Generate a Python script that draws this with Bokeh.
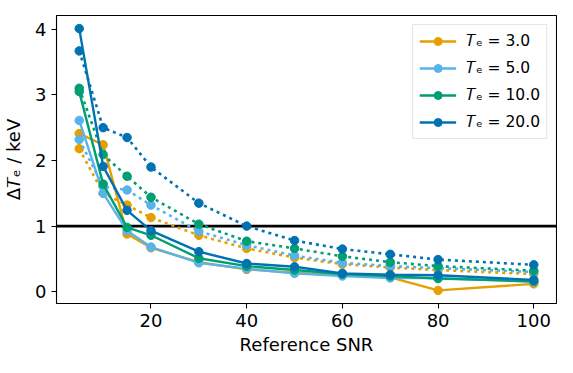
from bokeh.plotting import figure
from bokeh.models import Range1d, FixedTicker, Span
from bokeh.embed import file_html
from bokeh.resources import INLINE

# ---- data ----
snr = [5, 10, 15, 20, 30, 40, 50, 60, 70, 80, 100]
te_labels = ["3.0", "5.0", "10.0", "20.0"]
colors = ["#E69F00", "#56B4E9", "#009E73", "#0072B2"]

# solid lines (with markers)
solid_te3 = [2.41, 2.24, 0.88, 0.67, 0.45, 0.34, 0.29, 0.25, 0.22, 0.02, 0.12]
solid_te5 = [2.61, 1.50, 0.93, 0.68, 0.44, 0.35, 0.28, 0.24, 0.21, 0.21, 0.15]
solid_te10 = [3.05, 1.64, 0.98, 0.86, 0.51, 0.39, 0.33, 0.27, 0.24, 0.20, 0.16]
solid_te20 = [4.01, 1.91, 1.24, 0.93, 0.61, 0.43, 0.38, 0.28, 0.26, 0.25, 0.18]

# dotted lines (with markers)
dotted_te3 = [2.18, 1.50, 1.32, 1.13, 0.86, 0.66, 0.52, 0.42, 0.37, 0.33, 0.27]
dotted_te5 = [2.32, 1.60, 1.55, 1.32, 0.92, 0.71, 0.55, 0.44, 0.39, 0.36, 0.30]
dotted_te10 = [3.10, 2.09, 1.76, 1.44, 1.03, 0.77, 0.66, 0.54, 0.45, 0.39, 0.32]
dotted_te20 = [3.67, 2.50, 2.35, 1.90, 1.35, 1.00, 0.78, 0.65, 0.57, 0.49, 0.41]

threshold = 1.0
x_ticks = [20, 40, 60, 80, 100]
y_ticks = [0, 1, 2, 3, 4]

solids = [solid_te3, solid_te5, solid_te10, solid_te20]
dotteds = [dotted_te3, dotted_te5, dotted_te10, dotted_te20]

# matplotlib-like 5% margins
all_y = [v for s in solids + dotteds for v in s]
xspan = max(snr) - min(snr)
yspan = max(all_y) - min(all_y)
x_range = Range1d(min(snr) - 0.05 * xspan, max(snr) + 0.05 * xspan)
y_range = Range1d(min(all_y) - 0.05 * yspan, max(all_y) + 0.05 * yspan)

FONT = "DejaVu Sans"

p = figure(width=557, height=357, output_backend="svg", toolbar_location=None,
           x_range=x_range, y_range=y_range,
           min_border_left=52, min_border_right=1, min_border_top=15, min_border_bottom=48)
p.background_fill_color = "white"
p.border_fill_color = "white"
p.outline_line_color = "black"
p.outline_line_width = 1.1
p.grid.visible = False

p.xaxis.ticker = FixedTicker(ticks=x_ticks)
p.yaxis.ticker = FixedTicker(ticks=y_ticks)
for ax in (p.xaxis[0], p.yaxis[0]):
    ax.axis_line_color = None
    ax.major_tick_line_color = "black"
    ax.major_tick_line_width = 1.1
    ax.major_tick_out = 5
    ax.major_tick_in = 0
    ax.minor_tick_line_color = None
    ax.major_label_text_font = FONT
    ax.major_label_text_font_size = "18px"
    ax.major_label_text_color = "black"
    ax.axis_label_text_font = FONT
    ax.axis_label_text_font_size = "18px"
    ax.axis_label_text_font_style = "normal"
    ax.axis_label_text_color = "black"
    ax.major_label_standoff = 5

p.xaxis.axis_label = "Reference SNR"
p.yaxis.axis_label = "\u0394\U0001D447\u2091 / keV"
p.xaxis.axis_label_standoff = 4
p.yaxis.axis_label_standoff = 8

p.add_layout(Span(location=threshold, dimension="width", line_color="black",
                  line_width=2.7, level="underlay"))

for lab, col, s, d in zip(te_labels, colors, solids, dotteds):
    leg = "\U0001D447\u2091 = " + lab
    p.line(snr, d, line_color=col, line_width=2.6, line_dash="3 4")
    p.scatter(snr, d, marker="circle", size=8.5, fill_color=col, line_color=col)
    p.line(snr, s, line_color=col, line_width=2.4, legend_label=leg)
    p.scatter(snr, s, marker="circle", size=8.5, fill_color=col, line_color=col,
              legend_label=leg)

lg = p.legend[0]
lg.location = "top_right"
lg.margin = 9
lg.padding = 6
lg.spacing = 7
lg.label_height = 20
lg.glyph_height = 20
lg.glyph_width = 37
lg.label_standoff = 10
lg.label_text_font = FONT
lg.label_text_font_size = "15.5px"
lg.label_text_color = "black"
lg.border_line_color = "#cccccc"
lg.border_line_width = 1
lg.background_fill_alpha = 0.8

open("out.html", "w").write(file_html(p, INLINE))
